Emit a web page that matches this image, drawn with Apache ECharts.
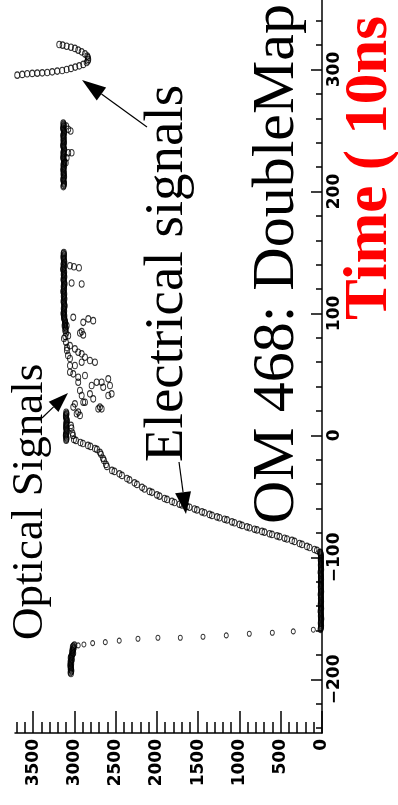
<!DOCTYPE html>
<html>
<head>
<meta charset="utf-8">
<script src="https://cdn.jsdelivr.net/npm/echarts@6/dist/echarts.min.js"></script>
<style>
  html, body { margin: 0; padding: 0; background: #fff; }
  #chart { width: 398px; height: 805px; }
</style>
</head>
<body>
<div id="chart"></div>
<script>
const earlyCluster = [
  [-172, 3000], [-172.8, 3012], [-173.6, 3020], [-174.4, 3008], [-175.2, 3015], [-176, 3025],
  [-176.8, 3018], [-177.6, 3028], [-178.4, 3014], [-179.2, 3022], [-180, 3030], [-180.8, 3035],
  [-181.6, 3040], [-182.4, 3046], [-183.2, 3036], [-184, 3030], [-184.8, 3041], [-185.6, 3048],
  [-186.4, 3044], [-187.2, 3038], [-188, 3047], [-188.8, 3050], [-189.6, 3043], [-190.4, 3040],
  [-191.2, 3046], [-192, 3044], [-192.8, 3036], [-193.6, 3040], [-194.4, 3048], [-195.2, 3042]
];
const decayArc = [
  [-172.2, 2954], [-171.4, 2885], [-170.3, 2779], [-169.5, 2626], [-168.3, 2457], [-166.7, 2230],
  [-165.9, 1988], [-165.9, 1717], [-165.1, 1442], [-164, 1160], [-162.6, 881], [-161.8, 602],
  [-160.7, 348], [-159.3, 105]
];
const baseline = [
  [-159, 18], [-158, 14], [-157, 11], [-156, 10], [-155, 13], [-154, 16], [-153, 14], [-152, 12],
  [-151, 9], [-150, 8], [-149, 12], [-148, 15], [-147, 13], [-146, 11], [-145, 15], [-144, 18],
  [-143, 13], [-142, 9], [-141, 11], [-140, 13], [-139, 15], [-138, 16], [-137, 12], [-136, 10],
  [-135, 12], [-134, 14], [-133, 13], [-132, 12], [-131, 15], [-130, 17], [-129, 12], [-128, 9],
  [-127, 11], [-126, 13], [-125, 14], [-124, 15], [-123, 13], [-122, 11], [-121, 14], [-120, 16],
  [-119, 13], [-118, 10], [-117, 12], [-116, 14], [-115, 13], [-114, 12], [-113, 15], [-112, 18],
  [-111, 13], [-110, 9], [-109, 11], [-108, 13], [-107, 14], [-106, 15], [-105, 13], [-104, 11],
  [-103, 14], [-102, 16], [-101, 14], [-100, 12], [-99, 13], [-98, 14], [-97, 17], [-96, 20]
];
const electrical = [
  [8.2, 3042], [6, 3036], [2, 3024], [0, 3018], [-3.3, 3006], [-4.1, 2982], [-5.8, 2927],
  [-6.6, 2897], [-8.2, 2836], [-9, 2806], [-10.7, 2751], [-11.5, 2727], [-13.9, 2691],
  [-15.5, 2678], [-18.8, 2654], [-20.5, 2642], [-23.8, 2618], [-25.4, 2606], [-28.7, 2545],
  [-29.5, 2515], [-31.5, 2455], [-32.8, 2424], [-35.3, 2363], [-36.5, 2333], [-38.9, 2272],
  [-40.2, 2242], [-42.6, 2181], [-43.9, 2151], [-45.9, 2090], [-46.7, 2060], [-48.8, 2000],
  [-49.8, 1969], [-51.7, 1908], [-52.5, 1878], [-54.1, 1818], [-55, 1787], [-56.4, 1727],
  [-57, 1697], [-58.2, 1636], [-58.9, 1605], [-60.3, 1545], [-61.1, 1515], [-62.7, 1454],
  [-63.4, 1424], [-64.8, 1363], [-65.6, 1333], [-66.8, 1272], [-67.5, 1242], [-68.7, 1181],
  [-69.3, 1151], [-70.9, 1091], [-71.6, 1060], [-73, 1000], [-73.8, 969], [-75, 909],
  [-75.7, 878], [-76.9, 818], [-77.5, 788], [-78.7, 727], [-79.3, 697], [-80.6, 636],
  [-81.2, 606], [-82.4, 545], [-83, 515], [-84.3, 454], [-84.9, 424], [-86.1, 364],
  [-86.9, 333], [-88.6, 272], [-89.4, 242], [-91, 182], [-91.9, 151], [-93.5, 91],
  [-94.3, 61], [-95.9, 24]
];
const opticalBar = [
  [-4, 3100], [-3, 3097], [-2, 3095], [-1, 3101], [0, 3105], [1, 3102], [2, 3098], [3, 3094],
  [4, 3092], [5, 3097], [6, 3102], [7, 3099], [8, 3096], [9, 3098], [10, 3100], [11, 3094],
  [12, 3090], [13, 3095], [14, 3098], [15, 3101], [16, 3104], [17, 3099], [18, 3095], [19, 3100]
];
const plateau = [
  [150, 3128], [149, 3132], [148, 3125], [147, 3130], [146, 3135], [145, 3127], [144, 3129],
  [143, 3124], [142, 3121], [141, 3130], [140, 3133], [139, 3127], [138, 3125], [137, 3134],
  [136, 3138], [135, 3129], [134, 3123], [133, 3127], [132, 3131], [131, 3126], [130, 3121],
  [129, 3128], [128, 3134], [127, 3130], [126, 3126], [125, 3122], [124, 3119], [123, 3125],
  [122, 3131], [121, 3128], [120, 3124], [119, 3130], [118, 3136], [117, 3129], [116, 3122],
  [115, 3126], [114, 3130], [113, 3125], [112, 3120], [111, 3128], [110, 3133], [109, 3129],
  [108, 3125], [107, 3121], [106, 3118], [105, 3124], [104, 3130], [103, 3127], [102, 3123],
  [101, 3129], [100, 3134], [99, 3128], [98, 3121], [97, 3125], [96, 3127], [95, 3120],
  [94, 3115], [93, 3112], [92, 3109], [91, 3116], [90, 3120], [89, 3111], [88, 3104],
  [87, 3108], [86, 3112], [84, 3100], [81, 3110], [79.5, 3127], [76.3, 3103], [72, 3090],
  [69.7, 3091], [65.6, 3078], [63.1, 3054]
];
const scattered = [
  [139.1, 3054], [138.3, 3006], [137.5, 2945], [125, 3034], [124.1, 2912], [96.8, 3014],
  [92.7, 2893], [95.5, 2832], [94.1, 2772], [84, 2933], [82.4, 2893], [85.1, 2912], [90, 3094],
  [81.8, 3075], [73.6, 3054], [70.9, 2994], [68.2, 2954], [66.9, 2912], [64.1, 2872],
  [61.4, 2812], [60, 2751], [57.3, 3054], [57.3, 2994], [51.8, 3054], [50.5, 3014], [60, 2912],
  [47.7, 2954], [43.6, 2954], [49.1, 2872], [40.9, 2791], [43.6, 2731], [43.6, 2670],
  [46.4, 2590], [39.5, 2651], [40.9, 2569], [34.1, 2549], [32.7, 2590], [34.1, 2812],
  [30, 2772], [36.8, 2933], [32.7, 2912], [27.2, 2893], [27.2, 2872], [25.9, 2994],
  [23.2, 3014], [19.1, 2954], [17.8, 2973], [16.4, 2933], [21.8, 2711], [21.8, 2670], [23.2, 2691]
];
const lateCluster = [
  [256, 3135], [255, 3131], [254, 3127], [253, 3133], [252, 3138], [251, 3134], [250, 3129],
  [249, 3126], [248, 3124], [247, 3131], [246, 3136], [245, 3132], [244, 3128], [243, 3131],
  [242, 3134], [241, 3129], [240, 3125], [239, 3132], [238, 3137], [237, 3134], [236, 3130],
  [235, 3126], [234, 3123], [233, 3129], [232, 3135], [231, 3131], [230, 3127], [229, 3132],
  [228, 3137], [227, 3133], [226, 3129], [225, 3125], [224, 3121], [223, 3128], [222, 3134],
  [221, 3130], [220, 3126], [219, 3131], [218, 3136], [217, 3132], [216, 3128], [215, 3130],
  [214, 3133], [213, 3128], [212, 3124], [211, 3131], [210, 3136], [209, 3133], [208, 3129],
  [207, 3127], [206, 3127], [205, 3131], [204, 3134],
  [251, 3075], [249.6, 3046], [253.7, 3100], [231.8, 3075], [231.8, 3034], [227.7, 3094], [223.6, 3105]
];
const hook = [
  [295.4, 3693], [296, 3632], [296.5, 3572], [296.8, 3511], [297, 3450], [297.3, 3390],
  [297.6, 3329], [298.1, 3269], [298.7, 3208], [299.2, 3148], [300, 3094], [300.9, 3042],
  [302, 2990], [303, 2941], [304.2, 2893], [305.8, 2852], [307, 2838], [308.3, 2832],
  [309.7, 2836], [311, 2844], [312.8, 2872], [314.5, 2912], [315.9, 2954], [317.3, 2994],
  [318.3, 3042], [319.1, 3094], [320, 3143], [320.5, 3184]
];

const valueLabels = [0, 500, 1000, 1500, 2000, 2500, 3000, 3500];
const valueMinor = [];
for (let v = 100; v <= 3700; v += 100) valueMinor.push(v);
const timeLabels = [-200, -100, 0, 100, 200, 300];
const timeMinor = [];
for (let t = -240; t <= 340; t += 20) timeMinor.push(t);

const labelFont = { fontSize: 17, fontWeight: 'bold', fontFamily: 'DejaVu Sans', color: '#000' };
const black = { color: '#000', width: 1.5 };
const plain = v => (v < 0 ? '\u2212' + (-v) : String(v));

function ring(name, pts, size) {
  return {
    name: name,
    type: 'scatter',
    symbol: 'circle',
    symbolSize: size || [5, 6.5],
    itemStyle: { color: 'rgba(255,255,255,0)', borderColor: '#000', borderWidth: 1 },
    // picture is turned 90 degrees: value runs along x, time along y
    data: pts.map(p => [p[1], p[0]])
  };
}

function arrow(x1, y1, x2, y2, len, half) {
  const d = Math.hypot(x2 - x1, y2 - y1);
  const ux = (x2 - x1) / d, uy = (y2 - y1) / d;
  const bx = x2 - ux * len, by = y2 - uy * len;
  return [
    { type: 'line', shape: { x1: x1, y1: y1, x2: bx, y2: by }, style: { stroke: '#000', lineWidth: 1.2 } },
    { type: 'polygon', shape: { points: [[x2, y2], [bx - uy * half, by + ux * half], [bx + uy * half, by - ux * half]] }, style: { fill: '#000' } }
  ];
}

function vtext(text, x, y, size, weight, color) {
  return {
    type: 'text', x: x, y: y, rotation: Math.PI / 2,
    style: {
      text: text, font: weight + ' ' + size + 'px "Liberation Serif"', fill: color,
      align: 'left', verticalAlign: 'middle', textAlign: 'left', textVerticalAlign: 'middle'
    }
  };
}

const chart = echarts.init(document.getElementById('chart'));
chart.setOption({
  animation: false,
  backgroundColor: '#fff',
  grid: { left: 15, right: 76, top: 0, bottom: 72 },
  xAxis: [
    {
      type: 'value', min: 0, max: 3720, inverse: true, position: 'bottom',
      axisLine: { show: true, onZero: false, lineStyle: black },
      axisTick: { show: true, inside: true, length: 22, customValues: valueLabels, lineStyle: black },
      axisLabel: Object.assign({ customValues: valueLabels, rotate: 90, margin: 6, formatter: plain }, labelFont),
      splitLine: { show: false }
    },
    {
      type: 'value', min: 0, max: 3720, inverse: true, position: 'bottom',
      axisLine: { show: false, onZero: false },
      axisTick: { show: true, inside: true, length: 11, customValues: valueMinor, lineStyle: black },
      axisLabel: { show: false },
      splitLine: { show: false }
    }
  ],
  yAxis: [
    {
      type: 'value', min: -244, max: 357, position: 'right',
      axisLine: { show: true, onZero: false, lineStyle: black },
      axisTick: { show: true, inside: true, length: 11, customValues: timeLabels, lineStyle: black },
      axisLabel: Object.assign({ customValues: timeLabels, rotate: 90, margin: 4, formatter: plain }, labelFont),
      splitLine: { show: false }
    },
    {
      type: 'value', min: -244, max: 357, position: 'right',
      axisLine: { show: false, onZero: false },
      axisTick: { show: true, inside: true, length: 6, customValues: timeMinor, lineStyle: black },
      axisLabel: { show: false },
      splitLine: { show: false }
    }
  ],
  series: [
    ring('early', earlyCluster),
    ring('decay', decayArc, [4, 5]),
    ring('baseline', baseline),
    ring('electrical', electrical),
    ring('optical', opticalBar),
    ring('plateau', plateau),
    ring('scattered', scattered),
    ring('late', lateCluster),
    ring('hook', hook)
  ],
  graphic: [
    vtext('Optical Signals', 30, 640, 45, 'normal', '#000'),
    vtext('Electrical signals', 168, 462, 55, 'normal', '#000'),
    vtext('OM 468: DoubleMap', 277, 524, 60, 'normal', '#000'),
    vtext('Time ( 10ns )', 370, 320, 61, 'bold', '#ff0000')
  ].concat(
    arrow(42, 418, 68, 393, 20, 7),
    arrow(179, 462, 186, 514, 22, 8),
    arrow(147, 127, 82, 80, 24, 8)
  )
});
</script>
</body>
</html>
